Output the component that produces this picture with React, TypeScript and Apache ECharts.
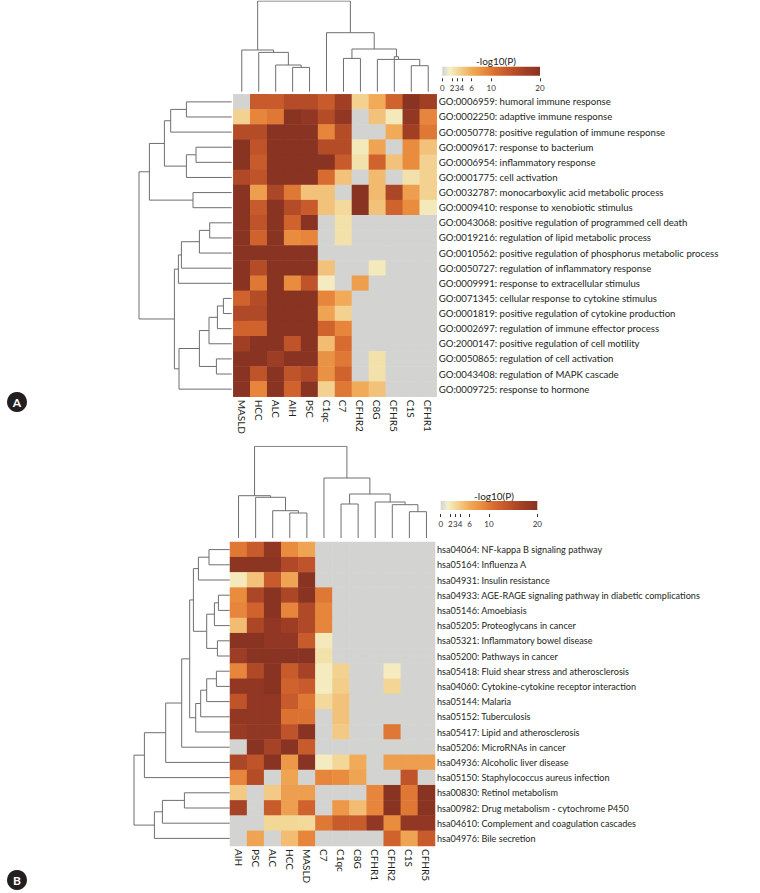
import React, { useEffect, useRef } from "react";
import * as echarts from "echarts";

// ---------- Panel A data ----------
const colsA = ["MASLD", "HCC", "ALC", "AIH", "PSC", "C1qc", "C7", "CFHR2", "C8G", "CFHR5", "C1S", "CFHR1"];
const rowsA = [
  "GO:0006959: humoral immune response",
  "GO:0002250: adaptive immune response",
  "GO:0050778: positive regulation of immune response",
  "GO:0009617: response to bacterium",
  "GO:0006954: inflammatory response",
  "GO:0001775: cell activation",
  "GO:0032787: monocarboxylic acid metabolic process",
  "GO:0009410: response to xenobiotic stimulus",
  "GO:0043068: positive regulation of programmed cell death",
  "GO:0019216: regulation of lipid metabolic process",
  "GO:0010562: positive regulation of phosphorus metabolic process",
  "GO:0050727: regulation of inflammatory response",
  "GO:0009991: response to extracellular stimulus",
  "GO:0071345: cellular response to cytokine stimulus",
  "GO:0001819: positive regulation of cytokine production",
  "GO:0002697: regulation of immune effector process",
  "GO:2000147: positive regulation of cell motility",
  "GO:0050865: regulation of cell activation",
  "GO:0043408: regulation of MAPK cascade",
  "GO:0009725: response to hormone",
];
const valuesA = [
  [0, 13, 13, 15, 15, 13, 17, 3.5, 6, 12, 20, 17],
  [3.5, 9, 10, 20, 19, 15, 19, 0, 4.5, 2, 19, 9],
  [15, 15, 20, 20, 20, 9, 15, 0, 0, 6, 17, 10],
  [20, 14, 20, 20, 20, 15, 15, 2, 6.5, 0, 8.5, 4.5],
  [20, 13, 20, 20, 20, 20, 13, 2.5, 12, 4.5, 8.5, 3.5],
  [15.5, 14, 20, 20, 20, 11, 4.5, 0, 5, 0, 2.5, 3.5],
  [20, 7, 16, 10, 4.5, 4.5, 0, 20, 5, 16, 7, 3.5],
  [20, 13, 20, 15, 13, 4.5, 3, 20, 4.5, 12, 8.5, 2],
  [20, 14, 20, 12, 20, 0, 2.5, 0, 0, 0, 0, 0],
  [20, 12, 20, 8.5, 9, 0, 2.5, 0, 0, 0, 0, 0],
  [20, 20, 20, 20, 20, 0, 0, 0, 0, 0, 0, 0],
  [20, 15, 20, 20, 20, 4.5, 0, 0, 2, 0, 0, 0],
  [20, 10, 20, 8.5, 14, 1.8, 0, 7, 0, 0, 0, 0],
  [12, 15, 20, 20, 20, 9, 6, 0, 0, 0, 0, 0],
  [15.5, 15.5, 20, 20, 20, 6.5, 3.5, 0, 0, 0, 0, 0],
  [12, 12, 20, 20, 20, 12, 9, 0, 0, 0, 0, 0],
  [17, 20, 20, 14, 20, 4.8, 11, 0, 0, 0, 0, 0],
  [20, 20, 17.5, 20, 20, 8, 10, 0, 2.5, 0, 0, 0],
  [20, 14, 20, 14, 15.5, 8, 12, 0, 2.5, 0, 0, 0],
  [20, 9, 20, 12, 20, 3.5, 10, 6, 4.5, 0, 0, 0],
];
// linkage: [childA, childB, height]; ids >= n refer to earlier merges
const colLinkA = [
  [3, 4, 24.3], [2, 12, 26.7], [1, 13, 39.3], [0, 14, 41.7],
  [6, 7, 33.3], [10, 11, 26], [8, 17, 32.3], [9, 18, 35],
  [16, 19, 42.7], [5, 20, 59], [15, 21, 90.7],
];
const rowLinkA = [
  [0, 1, 45.3], [2, 20, 61], [3, 4, 35.7], [5, 22, 45.3], [21, 23, 67.3],
  [6, 7, 38.7], [24, 25, 82.3], [8, 9, 22], [10, 27, 32.3], [11, 28, 50.3],
  [12, 29, 53.3], [13, 14, 8.3], [15, 31, 14.3], [16, 32, 22.7], [17, 18, 15.3],
  [33, 34, 32.3], [19, 35, 52.7], [30, 36, 57.3], [26, 37, 92.7],
];

// ---------- Panel B data ----------
const colsB = ["AIH", "PSC", "ALC", "HCC", "MASLD", "C7", "C1qc", "C8G", "CFHR1", "CFHR2", "C1S", "CFHR5"];
const rowsB = [
  "hsa04064: NF-kappa B signaling pathway",
  "hsa05164: Influenza A",
  "hsa04931: Insulin resistance",
  "hsa04933: AGE-RAGE signaling pathway in diabetic complications",
  "hsa05146: Amoebiasis",
  "hsa05205: Proteoglycans in cancer",
  "hsa05321: Inflammatory bowel disease",
  "hsa05200: Pathways in cancer",
  "hsa05418: Fluid shear stress and atherosclerosis",
  "hsa04060: Cytokine-cytokine receptor interaction",
  "hsa05144: Malaria",
  "hsa05152: Tuberculosis",
  "hsa05417: Lipid and atherosclerosis",
  "hsa05206: MicroRNAs in cancer",
  "hsa04936: Alcoholic liver disease",
  "hsa05150: Staphylococcus aureus infection",
  "hsa00830: Retinol metabolism",
  "hsa00982: Drug metabolism - cytochrome P450",
  "hsa04610: Complement and coagulation cascades",
  "hsa04976: Bile secretion",
];
const valuesB = [
  [10, 13, 19, 8.5, 6.5, 0, 0, 0, 0, 0, 0, 0],
  [19.5, 19.5, 19.5, 15.5, 14, 0, 0, 0, 0, 0, 0, 0],
  [2, 4.5, 13, 6.5, 20, 0, 0, 0, 0, 0, 0, 0],
  [8.5, 16, 20, 16, 20, 10, 0, 0, 0, 0, 0, 0],
  [9, 12, 20, 9, 15.5, 9, 0, 0, 0, 0, 0, 0],
  [4.8, 16, 19, 17.5, 15.5, 9, 0, 0, 0, 0, 0, 0],
  [20, 20, 19, 19, 13, 2, 0, 0, 0, 0, 0, 0],
  [17.5, 20, 20, 20, 20, 2.5, 0, 0, 0, 0, 0, 0],
  [9, 15.5, 20, 13, 16.5, 1.8, 3.5, 0, 0, 1.8, 0, 0],
  [19, 19, 20, 12, 13, 1.8, 3.8, 0, 0, 3.3, 0, 0],
  [14, 19, 19, 13, 10, 3, 4.5, 0, 0, 0, 0, 0],
  [19, 19, 19, 10.5, 10.5, 0, 4.5, 0, 0, 0, 0, 0],
  [18, 19, 19, 14, 20, 0, 4, 0, 0, 10, 0, 0],
  [0, 20, 16.5, 20, 13, 0, 0, 0, 0, 0, 0, 0],
  [16, 14, 20, 7.5, 20, 1.8, 3.2, 6, 0, 7, 7, 7],
  [9, 15, 0, 6.5, 0, 9, 8.5, 6.5, 0, 0, 14, 0],
  [4, 0, 4, 7, 7, 0, 0, 0, 9, 20, 10, 20],
  [16.5, 0, 13, 7, 12, 0, 7.5, 4.8, 9, 20, 10, 20],
  [0, 0, 3.2, 3.2, 3, 10, 13, 13, 19, 8.5, 19, 19],
  [0, 6.5, 0, 4.8, 9, 0, 0, 0, 0, 12, 6.5, 13],
];
const colLinkB = [
  [3, 4, 25], [2, 12, 27.3], [1, 13, 40.7], [0, 14, 42.3],
  [6, 7, 34], [10, 11, 26.3], [9, 17, 33.3], [8, 18, 36],
  [16, 19, 44], [5, 20, 60], [15, 21, 91.7],
];
const rowLinkB = [
  [0, 1, 20.7], [2, 20, 31.3], [3, 4, 11.3], [5, 22, 15.3], [6, 7, 12.3],
  [23, 24, 23], [21, 25, 36.3], [8, 9, 13.3], [10, 27, 23], [11, 28, 29],
  [12, 29, 34], [26, 30, 40], [13, 31, 48], [14, 32, 64], [15, 33, 85.3],
  [16, 17, 45.3], [18, 35, 67.3], [19, 36, 75.3], [34, 37, 95.7],
];

// legend scale
const legendTicks = [0, 2, 3, 4, 6, 10, 20];
const scaleMax = 20;

// ---------- style helpers ----------
const colorStops: [number, string][] = [
  [0, "#d3d3d1"], [1.5, "#f4f0c9"], [3, "#f3da9c"], [4.5, "#f2c27a"], [6, "#f0aa58"],
  [8.5, "#e98c3e"], [11, "#d86b2f"], [14, "#bf5329"], [17, "#a13f25"], [20, "#893322"],
];
function hexToRgb(h: string) {
  const n = parseInt(h.slice(1), 16);
  return [(n >> 16) & 255, (n >> 8) & 255, n & 255];
}
function colorAt(v: number) {
  for (let i = 0; i < colorStops.length - 1; i++) {
    const [a, ca] = colorStops[i];
    const [b, cb] = colorStops[i + 1];
    if (v >= a && v <= b) {
      const t = (v - a) / (b - a);
      const x = hexToRgb(ca), y = hexToRgb(cb);
      const c = x.map((q, k) => Math.round(q + (y[k] - q) * t));
      return `rgb(${c[0]},${c[1]},${c[2]})`;
    }
  }
  return colorStops[colorStops.length - 1][1];
}
const colorList: string[] = [];
for (let i = 0; i <= 80; i++) colorList.push(colorAt((i / 80) * scaleMax));

function dendro(n: number, links: number[][], orient: "top" | "left") {
  const pos: number[] = [];
  const h: number[] = [];
  for (let i = 0; i < n; i++) { pos.push(i); h.push(0); }
  const segs: any[] = [];
  links.forEach(([a, b, ht]) => {
    const pa = pos[a], pb = pos[b];
    const pts = [[pa, h[a]], [pa, ht], [pb, ht], [pb, h[b]]];
    segs.push({ coords: orient === "top" ? pts : pts.map(([p, q]) => [q, p]) });
    pos.push((pa + pb) / 2);
    h.push(ht);
  });
  return segs;
}

function heatData(vals: number[][]) {
  const d: number[][] = [];
  vals.forEach((row, r) => row.forEach((v, c) => d.push([c, r, v])));
  return d;
}

const FONT = "Lato";
const TXT = "#231f20";
const LINE = "#6e6e6e";

type Panel = {
  cols: string[]; rows: string[]; vals: number[][];
  colLink: number[][]; rowLink: number[][];
  hx: number; hy: number; hw: number; hh: number;
  topH: number; leftW: number; leafGapTop: number; leafGapLeft: number;
  lx: number; ly: number; lw: number; lh: number; titleX: number; titleY: number; tickTop: number;
  rowFont: number; colFont: number;
};

const panelA: Panel = {
  cols: colsA, rows: rowsA, vals: valuesA, colLink: colLinkA, rowLink: rowLinkA,
  hx: 233.3, hy: 94.3, hw: 203.4, hh: 302.4, topH: 90.7, leftW: 92.7, leafGapTop: 2.6, leafGapLeft: 1.6,
  lx: 442.3, ly: 66.7, lw: 97.7, lh: 9, titleX: 496, titleY: 60.5, tickTop: 78.3,
  rowFont: 9.6, colFont: 10,
};
const panelB: Panel = {
  cols: colsB, rows: rowsB, vals: valuesB, colLink: colLinkB, rowLink: rowLinkB,
  hx: 230, hy: 542, hw: 205, hh: 304, topH: 91.7, leftW: 95.7, leafGapTop: 4, leafGapLeft: 0.3,
  lx: 440.7, ly: 501, lw: 96.6, lh: 9, titleX: 494, titleY: 495.5, tickTop: 514,
  rowFont: 9.1, colFont: 10,
};

function buildOption() {
  const grid: any[] = [];
  const xAxis: any[] = [];
  const yAxis: any[] = [];
  const series: any[] = [];
  const graphic: any[] = [];
  const heatIdx: number[] = [];

  [panelA, panelB].forEach((p) => {
    const g0 = grid.length;
    // heatmap
    grid.push({ left: p.hx, top: p.hy, width: p.hw, height: p.hh, containLabel: false });
    xAxis.push({
      type: "category", gridIndex: g0, data: p.cols, position: "bottom",
      axisLine: { show: false }, axisTick: { show: false }, splitLine: { show: false },
      axisLabel: { rotate: -90, fontSize: p.colFont, margin: 3, color: TXT, fontFamily: FONT, interval: 0 },
    });
    yAxis.push({
      type: "category", gridIndex: g0, data: p.rows, position: "right", inverse: true,
      axisLine: { show: false }, axisTick: { show: false }, splitLine: { show: false },
      axisLabel: { fontSize: p.rowFont, margin: 2, color: TXT, fontFamily: FONT, interval: 0 },
    });
    heatIdx.push(series.length);
    series.push({
      type: "heatmap", xAxisIndex: g0, yAxisIndex: g0, data: heatData(p.vals),
      itemStyle: { borderWidth: 0 }, emphasis: { disabled: true }, silent: true,
    });
    // top dendrogram
    const g1 = grid.length;
    grid.push({ left: p.hx, top: p.hy - p.leafGapTop - p.topH, width: p.hw, height: p.topH });
    xAxis.push({ type: "value", gridIndex: g1, min: -0.5, max: p.cols.length - 0.5, show: false });
    yAxis.push({ type: "value", gridIndex: g1, min: 0, max: p.topH, show: false });
    series.push({
      type: "lines", coordinateSystem: "cartesian2d", xAxisIndex: g1, yAxisIndex: g1, polyline: true,
      data: dendro(p.cols.length, p.colLink, "top"), silent: true,
      lineStyle: { color: LINE, width: 1, opacity: 1 },
    });
    // left dendrogram
    const g2 = grid.length;
    grid.push({ left: p.hx - p.leafGapLeft - p.leftW, top: p.hy, width: p.leftW, height: p.hh });
    xAxis.push({ type: "value", gridIndex: g2, min: 0, max: p.leftW, inverse: true, show: false });
    yAxis.push({ type: "value", gridIndex: g2, min: -0.5, max: p.rows.length - 0.5, inverse: true, show: false });
    series.push({
      type: "lines", coordinateSystem: "cartesian2d", xAxisIndex: g2, yAxisIndex: g2, polyline: true,
      data: dendro(p.rows.length, p.rowLink, "left"), silent: true,
      lineStyle: { color: LINE, width: 1, opacity: 1 },
    });
    // legend tick axis
    const g3 = grid.length;
    grid.push({ left: p.lx, top: p.tickTop, width: p.lw, height: 3 });
    xAxis.push({
      type: "value", gridIndex: g3, min: 0, max: scaleMax, position: "bottom",
      axisLine: { show: false }, splitLine: { show: false },
      axisTick: { show: true, inside: true, length: 3, customValues: legendTicks, lineStyle: { color: "#333", width: 1 } },
      axisLabel: { customValues: legendTicks, fontSize: 8, margin: 3, color: "#333", fontFamily: FONT, showMinLabel: true, showMaxLabel: true },
    });
    yAxis.push({ type: "value", gridIndex: g3, show: false });

    // legend bar + title
    graphic.push({
      type: "rect", shape: { x: p.lx, y: p.ly, width: p.lw, height: p.lh }, silent: true,
      style: {
        fill: new echarts.graphic.LinearGradient(0, 0, 1, 0,
          colorStops.map(([v, c]) => ({ offset: v / scaleMax, color: c }))),
      },
    });
    graphic.push({
      type: "text", x: p.titleX, y: p.titleY, silent: true,
      style: { text: "-log10(P)", fill: TXT, font: `10px ${FONT}`, textAlign: "center", textVerticalAlign: "middle" },
    });
  });

  // panel letters
  [["A", 402], ["B", 880]].forEach(([t, y]) => {
    graphic.push({ type: "circle", shape: { cx: 17, cy: y as number, r: 10 }, style: { fill: "#231f20" }, silent: true });
    graphic.push({
      type: "text", x: 17, y: y as number, silent: true,
      style: { text: t as string, fill: "#ffffff", font: `bold 12px ${FONT}`, textAlign: "center", textVerticalAlign: "middle" },
    });
  });

  return {
    animation: false,
    backgroundColor: "#ffffff",
    grid, xAxis, yAxis, series, graphic,
    visualMap: [{
      type: "continuous", show: false, min: 0, max: scaleMax, seriesIndex: heatIdx, calculable: false,
      inRange: { color: colorList },
    }],
  };
}

export default function App() {
  const ref = useRef<HTMLDivElement>(null);
  useEffect(() => {
    if (!ref.current) return;
    const chart = echarts.init(ref.current, null, { renderer: "svg" });
    chart.setOption(buildOption() as any);
    return () => chart.dispose();
  }, []);
  return (
    <div
      ref={ref}
      style={{ position: "fixed", left: 0, top: 0, width: 760, height: 893, background: "#fff" }}
    />
  );
}
